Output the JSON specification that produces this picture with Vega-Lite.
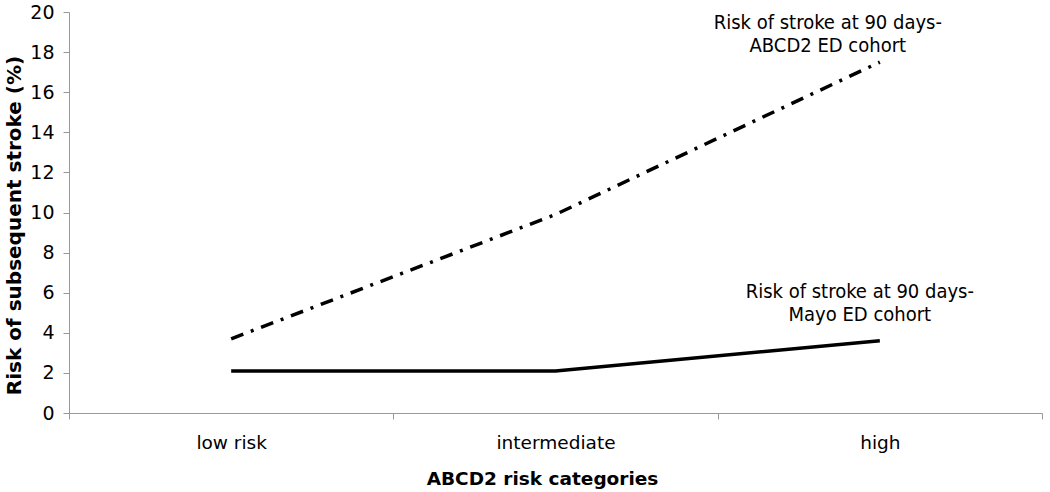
{
  "$schema": "https://vega.github.io/schema/vega-lite/v6.json",
  "width": 973,
  "height": 401,
  "autosize": {"type": "none"},
  "padding": {"left": 69, "top": 12, "right": 8, "bottom": 79},
  "background": "white",
  "config": {"view": {"stroke": null}, "font": "DejaVu Sans"},
  "datasets": {
    "series": [
      {"category": "low risk", "cohort": "ABCD2", "risk": 3.7},
      {"category": "intermediate", "cohort": "ABCD2", "risk": 9.9},
      {"category": "high", "cohort": "ABCD2", "risk": 17.5},
      {"category": "low risk", "cohort": "Mayo", "risk": 2.1},
      {"category": "intermediate", "cohort": "Mayo", "risk": 2.1},
      {"category": "high", "cohort": "Mayo", "risk": 3.6}
    ],
    "labels": [
      {"category": "high", "cohort": "ABCD2", "risk": 19.15, "label": "Risk of stroke at 90 days-\nABCD2 ED cohort"},
      {"category": "high", "cohort": "Mayo", "risk": 5.75, "label": "Risk of stroke at 90 days-\nMayo ED cohort"}
    ]
  },
  "encoding": {
    "x": {
      "field": "category",
      "type": "nominal",
      "sort": ["low risk", "intermediate", "high"],
      "bandPosition": 0.5,
      "scale": {"type": "band", "domain": ["low risk", "intermediate", "high"], "paddingInner": 0, "paddingOuter": 0},
      "axis": {
        "title": "ABCD2 risk categories",
        "titleFontSize": 18.5,
        "titleFontWeight": "bold",
        "titleColor": "black",
        "titlePadding": 18,
        "titleX": 473,
        "titleAlign": "center",
        "labelFontSize": 18.5,
        "labelColor": "black",
        "labelAngle": 0,
        "labelPadding": 14,
        "tickBand": "extent",
        "tickSize": 6,
        "tickColor": "#999999",
        "domainColor": "#999999",
        "grid": false
      }
    },
    "y": {
      "field": "risk",
      "type": "quantitative",
      "scale": {"domain": [0, 20]},
      "axis": {
        "title": "Risk of subsequent stroke (%)",
        "titleFontSize": 20,
        "titleFontWeight": "bold",
        "titleColor": "black",
        "titleAngle": -90,
        "titleAlign": "center",
        "titleBaseline": "middle",
        "titleX": -55,
        "titleY": 213,
        "labelFontSize": 19,
        "labelColor": "black",
        "labelPadding": 9,
        "values": [0, 2, 4, 6, 8, 10, 12, 14, 16, 18, 20],
        "tickSize": 6,
        "tickColor": "#999999",
        "domainColor": "#999999",
        "grid": false
      }
    }
  },
  "layer": [
    {
      "data": {"name": "series"},
      "transform": [{"filter": "datum.cohort === 'ABCD2'"}],
      "mark": {"type": "line", "color": "black", "strokeWidth": 3.5, "strokeDash": [13, 8, 3, 8]}
    },
    {
      "data": {"name": "series"},
      "transform": [{"filter": "datum.cohort === 'Mayo'"}],
      "mark": {"type": "line", "color": "black", "strokeWidth": 3.5}
    },
    {
      "data": {"name": "labels"},
      "transform": [{"filter": "datum.cohort === 'ABCD2'"}],
      "mark": {"type": "text", "font": "DejaVu Sans Condensed", "fontSize": 20, "align": "center", "baseline": "alphabetic", "dx": -52, "lineBreak": "\n", "lineHeight": 23, "color": "black"},
      "encoding": {"text": {"field": "label"}}
    },
    {
      "data": {"name": "labels"},
      "transform": [{"filter": "datum.cohort === 'Mayo'"}],
      "mark": {"type": "text", "font": "DejaVu Sans Condensed", "fontSize": 20, "align": "center", "baseline": "alphabetic", "dx": -20, "lineBreak": "\n", "lineHeight": 23, "color": "black"},
      "encoding": {"text": {"field": "label"}}
    }
  ]
}
